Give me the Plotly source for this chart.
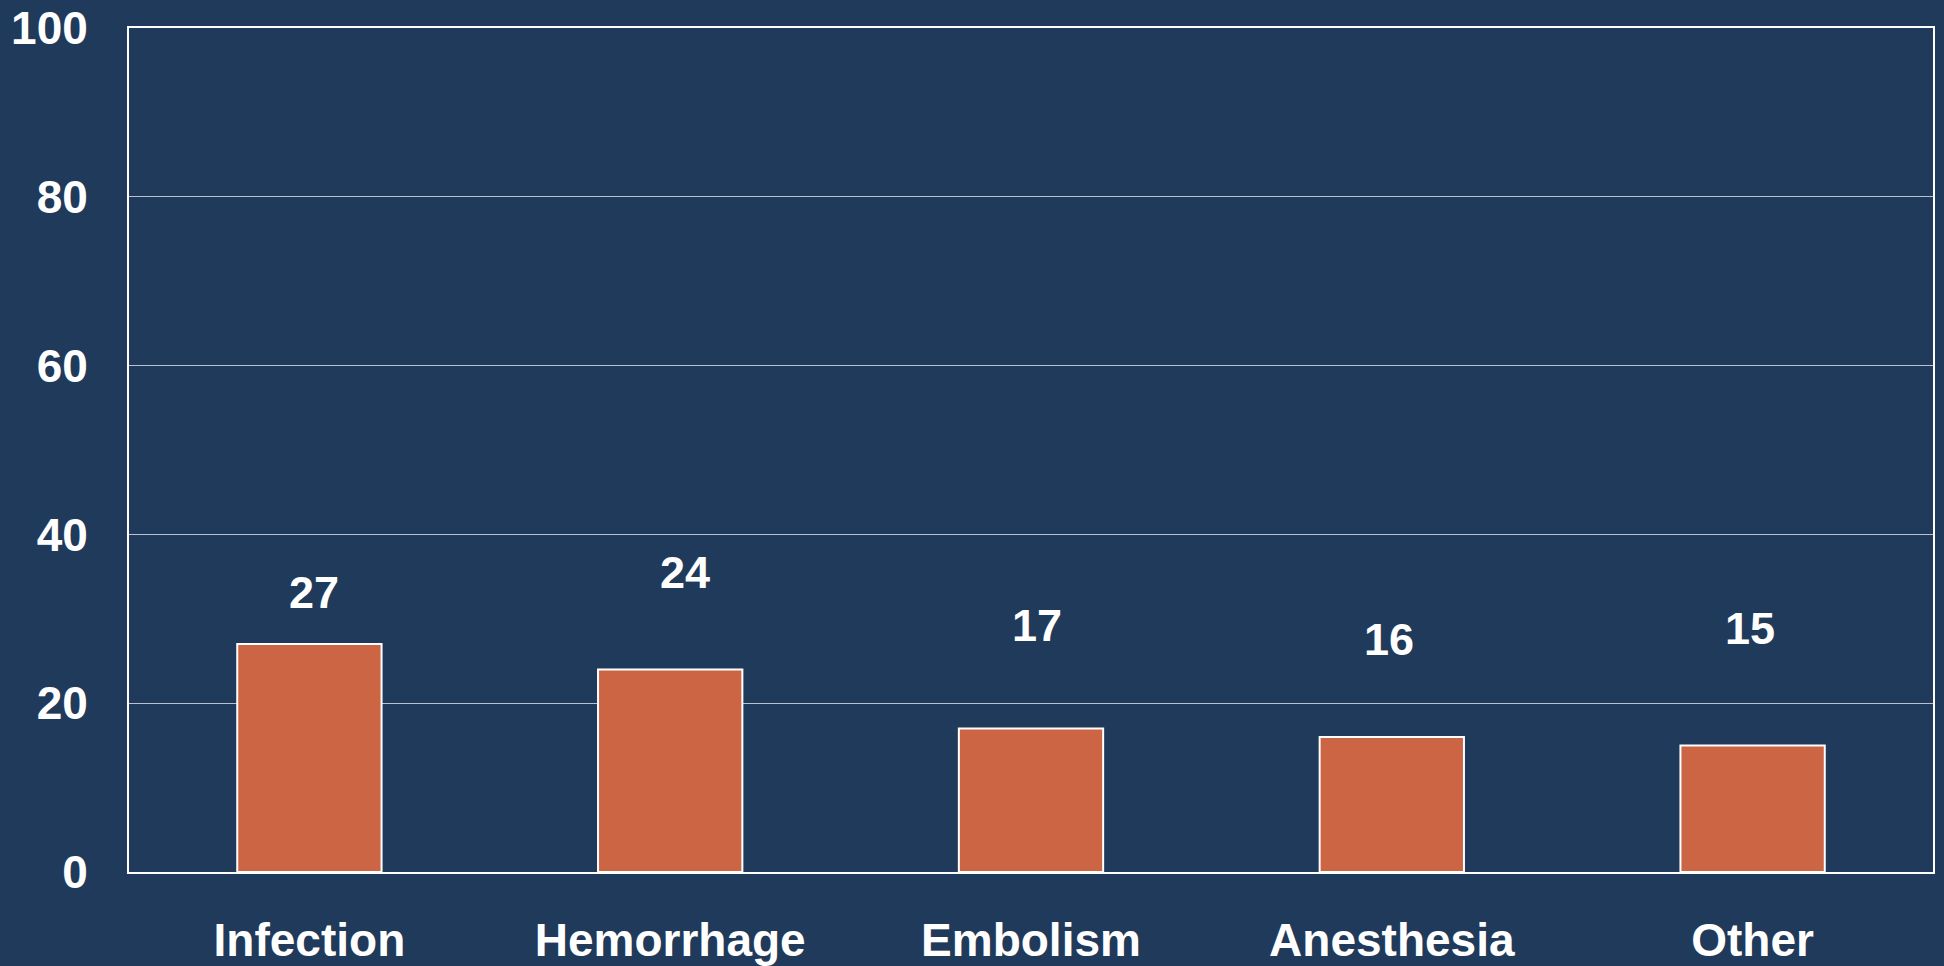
import plotly.graph_objects as go

categories = ["Infection", "Hemorrhage", "Embolism", "Anesthesia", "Other"]
values = [27, 24, 17, 16, 15]
y_ticks = [0, 20, 40, 60, 80, 100]

# label placement (styling, in pixels relative to bar top / centre)
label_yshift = [52, 97, 103, 97, 117]
label_xshift = [5, 15, 6, -3, -3]

BG = "#1F3A5A"
BAR = "#CC6543"
FONT = "Arial, Liberation Sans, sans-serif"

fig = go.Figure()
fig.add_trace(go.Bar(
    x=categories, y=values, width=0.4,
    marker=dict(color=BAR, line=dict(color="white", width=2)),
    hoverinfo="skip",
))

for c, v, dy, dx in zip(categories, values, label_yshift, label_xshift):
    fig.add_annotation(
        x=c, y=v, text=str(v), showarrow=False, yshift=dy, xshift=dx,
        yanchor="middle", xanchor="center",
        font=dict(family=FONT, size=45, color="white", weight="bold"),
    )

fig.update_layout(
    width=1944, height=966,
    paper_bgcolor=BG, plot_bgcolor=BG,
    margin=dict(l=129, r=11, t=28, b=94),
    showlegend=False,
    bargap=0.6,
    font=dict(family=FONT, color="white"),
)
fig.update_xaxes(
    showgrid=False, showline=True, linecolor="white", linewidth=2, mirror=True,
    ticks="", ticklabelstandoff=27, automargin=False,
    tickfont=dict(family=FONT, size=46, color="white", weight="bold"),
)
fig.update_yaxes(
    range=[0, 100], tickvals=y_ticks, ticktext=[str(t) for t in y_ticks],
    showgrid=True, gridcolor="#B9C3CF", gridwidth=1,
    showline=True, linecolor="white", linewidth=2, mirror=True,
    zeroline=False, ticks="", ticklabelstandoff=30, automargin=False,
    tickfont=dict(family=FONT, size=46, color="white", weight="bold"),
)

fig.write_html(
    "out.html",
    config={"displayModeBar": False},
    post_script="document.body.style.margin='0';document.body.style.padding='0';"
                "document.body.style.overflow='hidden';"
                "document.body.style.background='%s';" % BG,
)
